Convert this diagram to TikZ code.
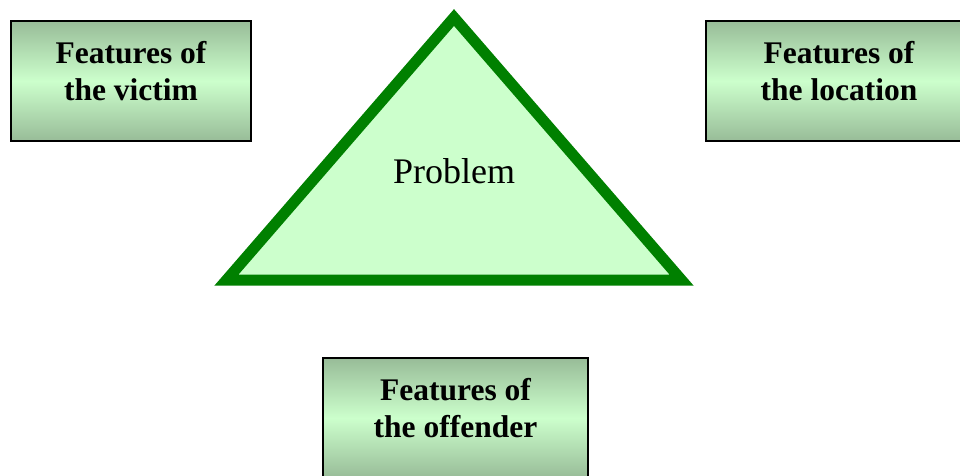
\documentclass[tikz,border=0pt]{standalone}
\usepackage{fontspec}
\setmainfont{Liberation Serif}
\usepackage{tikz}
\definecolor{boxdark}{RGB}{152,188,152}
\definecolor{boxlight}{RGB}{204,255,204}
\definecolor{tripen}{RGB}{0,128,0}
\tikzstyle{featbox}=[rectangle,draw=black,line width=2pt,
                     top color=boxdark,bottom color=boxdark,middle color=boxlight,
                     anchor=north west,align=center,inner sep=0pt,
                     font=\fontsize{31.5}{37}\selectfont\bfseries,
                     text depth=21pt]

\begin{document}
\begin{tikzpicture}[x=1pt,y=-1pt]
    \useasboundingbox (0,0) rectangle (960,475);
    \clip (0,0) rectangle (960,475);
    % the triangle
    \draw[tripen,fill=boxlight,line width=11pt,line join=miter]
      (226.5,280) -- (454,17.5) -- (681.5,280) -- cycle;
    \node (problem) at (454,183) [anchor=base,
      font=\fontsize{36}{40}\selectfont]{Problem};
    % the three boxes
    \node (victim) at (10,20) [featbox,minimum width=240pt,minimum height=120pt]
      {Features of\\the victim};
    \node (location) at (705,20) [featbox,minimum width=266pt,minimum height=120pt]
      {Features of\\the location};
    \node (offender) at (322,357) [featbox,minimum width=265pt,minimum height=120pt]
      {Features of\\the offender};
  \end{tikzpicture}
\end{document}
